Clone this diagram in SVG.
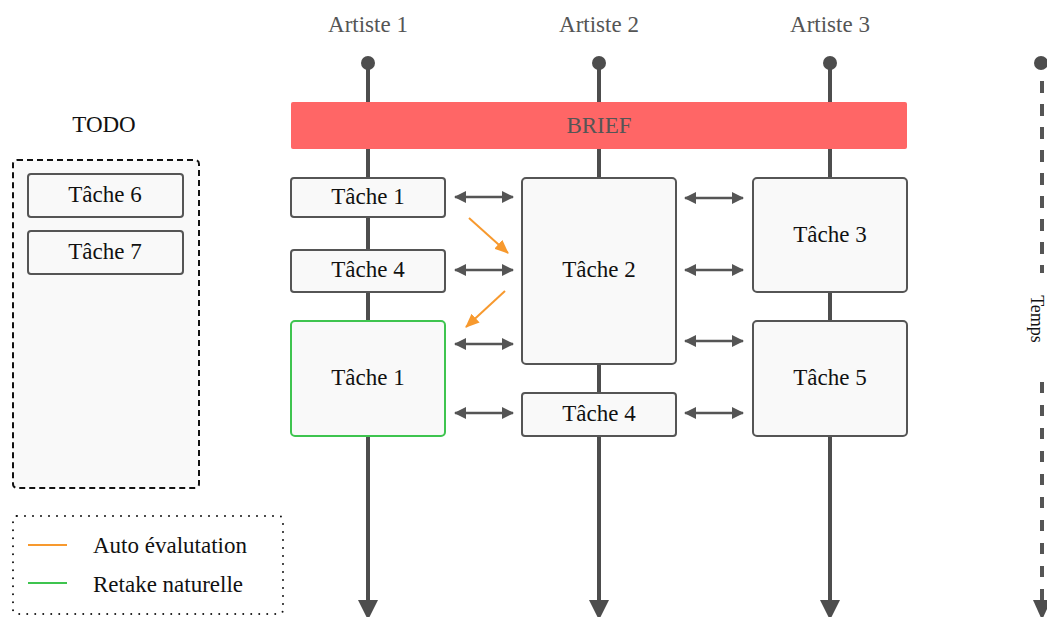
<svg xmlns="http://www.w3.org/2000/svg" width="1047" height="617" viewBox="0 0 1047 617">
<style>
text{font-family:"Liberation Serif","Times New Roman",serif;font-size:23px;text-anchor:middle;dominant-baseline:central;fill:#111}
.head{fill:#555}
.task{fill:#f9f9f9;stroke:#555;stroke-width:2}
.green{stroke:#3ec44f}
.life{stroke:#4d4d4d;stroke-width:4;fill:none}
.dbl{stroke:#555;stroke-width:2.5;marker-start:url(#ah);marker-end:url(#ah)}
.auto{stroke:#f7992e;stroke-width:2;marker-end:url(#ao)}
</style>
<defs>
<marker id="ah" viewBox="0 0 12 12" refX="11" refY="6" markerWidth="12" markerHeight="12" markerUnits="userSpaceOnUse" orient="auto-start-reverse"><path d="M0,0 L12,6 L0,12 Z" fill="#555"/></marker>
<marker id="ao" viewBox="0 0 14 12" refX="13" refY="6" markerWidth="14" markerHeight="12" markerUnits="userSpaceOnUse" orient="auto"><path d="M0,0 L14,6 L0,12 Z" fill="#f7992e"/></marker>
</defs>

<g id="artists">
<text class="head" x="368" y="24">Artiste 1</text>
<text class="head" x="599" y="24">Artiste 2</text>
<text class="head" x="830" y="24">Artiste 3</text>
</g>

<g id="lifelines">
<line class="life" x1="368" y1="63" x2="368" y2="602"/>
<line class="life" x1="599" y1="63" x2="599" y2="602"/>
<line class="life" x1="830" y1="63" x2="830" y2="602"/>
<circle cx="368" cy="63" r="7" fill="#4d4d4d"/>
<circle cx="599" cy="63" r="7" fill="#4d4d4d"/>
<circle cx="830" cy="63" r="7" fill="#4d4d4d"/>
<path d="M358,600 L378,600 L368,620 Z" fill="#4d4d4d"/>
<path d="M589,600 L609,600 L599,620 Z" fill="#4d4d4d"/>
<path d="M820,600 L840,600 L830,620 Z" fill="#4d4d4d"/>
</g>

<g id="time">
<circle cx="1041" cy="63" r="7" fill="#4d4d4d"/>
<line x1="1042" y1="70" x2="1042" y2="273" stroke="#555" stroke-width="4" stroke-dasharray="12 11" stroke-dashoffset="-11"/>
<line x1="1042" y1="382" x2="1042" y2="602" stroke="#555" stroke-width="4" stroke-dasharray="11 12"/>
<path d="M1033,600 L1051,600 L1042,620 Z" fill="#4d4d4d"/>
<text x="1037" y="319" transform="rotate(90 1037 319)" style="font-size:18px">Temps</text>
</g>

<g id="brief">
<rect x="291" y="102" width="616" height="47" rx="2" fill="#ff6666"/>
<text class="head" x="599" y="125">BRIEF</text>
</g>

<g id="todo">
<text x="104" y="124">TODO</text>
<rect x="13" y="160" width="186" height="328" rx="4" fill="#f9f9f9" stroke="#111" stroke-width="2" stroke-dasharray="6 4"/>
</g>
<g id="t6"><rect class="task" x="28" y="174" width="155" height="43" rx="3"/><text x="105" y="194">Tâche 6</text></g>
<g id="t7"><rect class="task" x="28" y="231" width="155" height="43" rx="3"/><text x="105" y="251">Tâche 7</text></g>

<g id="a1t1"><rect class="task" x="291" y="178" width="154" height="39" rx="3"/><text x="368" y="196">Tâche 1</text></g>
<g id="a1t4"><rect class="task" x="291" y="250" width="154" height="42" rx="3"/><text x="368" y="269">Tâche 4</text></g>
<g id="a1t1b"><rect class="task green" x="291" y="321" width="154" height="115" rx="4"/><text x="368" y="377">Tâche 1</text></g>
<g id="a2t2"><rect class="task" x="522" y="178" width="154" height="186" rx="4"/><text x="599" y="269">Tâche 2</text></g>
<g id="a2t4"><rect class="task" x="522" y="393" width="154" height="43" rx="3"/><text x="599" y="413">Tâche 4</text></g>
<g id="a3t3"><rect class="task" x="753" y="178" width="154" height="114" rx="4"/><text x="830" y="234">Tâche 3</text></g>
<g id="a3t5"><rect class="task" x="753" y="321" width="154" height="115" rx="4"/><text x="830" y="377">Tâche 5</text></g>

<g id="connectors">
<line class="dbl" x1="455" y1="197" x2="513" y2="197"/>
<line class="dbl" x1="455" y1="270" x2="513" y2="270"/>
<line class="dbl" x1="455" y1="344" x2="513" y2="344"/>
<line class="dbl" x1="455" y1="413" x2="513" y2="413"/>
<line class="dbl" x1="685" y1="198" x2="743" y2="198"/>
<line class="dbl" x1="685" y1="270" x2="743" y2="270"/>
<line class="dbl" x1="685" y1="341" x2="743" y2="341"/>
<line class="dbl" x1="685" y1="413" x2="743" y2="413"/>
<line class="auto" x1="469" y1="218" x2="508" y2="253"/>
<line class="auto" x1="505" y1="291" x2="466" y2="327"/>
</g>

<g id="legend">
<rect x="13" y="516" width="270" height="98" rx="4" fill="none" stroke="#111" stroke-width="2" stroke-dasharray="0 8" stroke-linecap="round"/>
<line x1="28" y1="545" x2="67" y2="545" stroke="#f7992e" stroke-width="2"/>
<line x1="28" y1="583" x2="67" y2="583" stroke="#3ec44f" stroke-width="2"/>
<text x="93" y="545" style="text-anchor:start">Auto évalutation</text>
<text x="93" y="584" style="text-anchor:start">Retake naturelle</text>
</g>
</svg>
